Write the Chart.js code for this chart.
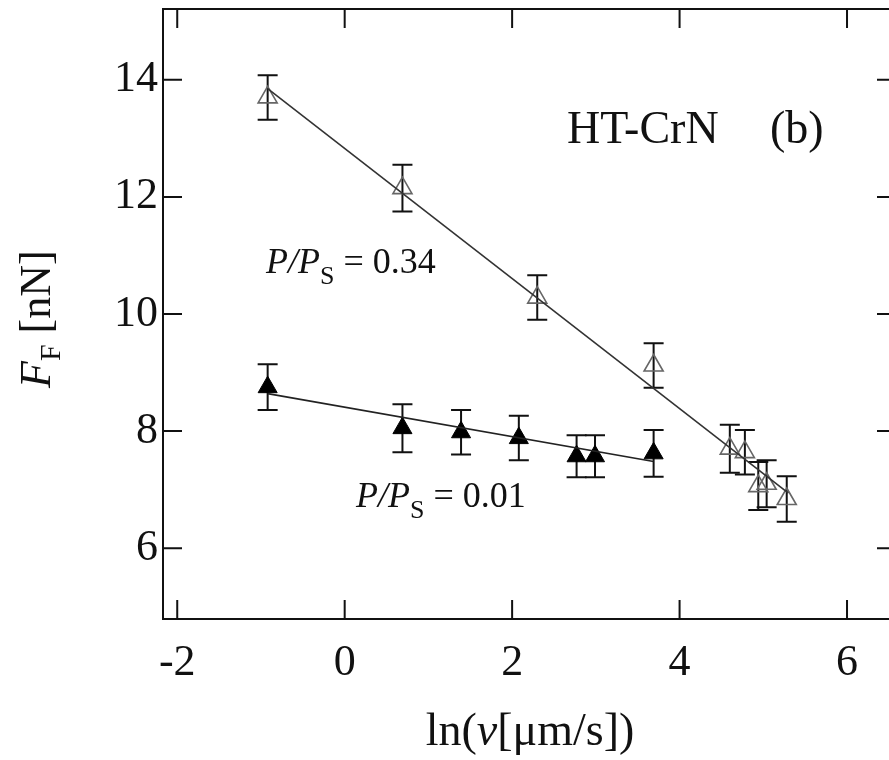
<!DOCTYPE html>
<html>
<head>
<meta charset="utf-8">
<script src="https://cdn.jsdelivr.net/npm/chart.js@4.4.1/dist/chart.umd.min.js"></script>
<style>
html,body{margin:0;padding:0;background:#fff;overflow:hidden;}
#wrap{width:900px;height:760px;}
</style>
</head>
<body>
<div id="wrap"><canvas id="c" width="900" height="760"></canvas></div>
<script>
// ---- data ----
const xOpen   = [-0.92, 0.69, 2.30, 3.69, 4.60, 4.78, 4.94, 5.04, 5.28];
const yOpen   = [13.70, 12.15, 10.28, 9.12, 7.70, 7.64, 7.06, 7.10, 6.84];
const eOpen   = [0.38, 0.40, 0.38, 0.38, 0.41, 0.38, 0.41, 0.40, 0.39];
const xFilled = [-0.92, 0.69, 1.39, 2.08, 2.77, 2.99, 3.69];
const yFilled = [8.75, 8.05, 7.98, 7.88, 7.57, 7.57, 7.62];
const eFilled = [0.39, 0.41, 0.38, 0.38, 0.36, 0.36, 0.40];
const fitOpenX   = [-0.92, 5.30];
const fitOpenY   = [13.85, 6.94];
const fitFilledX = [-0.92, 3.69];
const fitFilledY = [8.64, 7.48];
const xTicks = [-2, 0, 2, 4, 6];
const yTicks = [6, 8, 10, 12, 14];

const SERIF = '"Liberation Serif", "DejaVu Serif", serif';
const pts = (xs, ys) => xs.map((x, i) => ({x, y: ys[i]}));

function drawRich(ctx, x, y, segs, align) {
  // segs: [text, fontSize, italic, dy]
  let total = 0;
  const w = segs.map(s => { ctx.font = (s[2] ? 'italic ' : '') + s[1] + 'px ' + SERIF; const m = ctx.measureText(s[0]).width; total += m; return m; });
  let cx = align === 'center' ? x - total / 2 : x;
  segs.forEach((s, i) => {
    ctx.font = (s[2] ? 'italic ' : '') + s[1] + 'px ' + SERIF;
    ctx.fillText(s[0], cx, y + (s[3] || 0));
    cx += w[i];
  });
}

const noPad = s => { s.paddingTop = 0; s.paddingBottom = 0; s.paddingLeft = 0; s.paddingRight = 0; };

const framePlugin = {
  id: 'frame',
  beforeDatasetsDraw(chart) {
    const {ctx, scales: {x, y}} = chart;
    ctx.save();
    ctx.strokeStyle = '#111';
    ctx.lineWidth = 2;
    const cap = 10;
    const bars = [[xOpen, yOpen, eOpen], [xFilled, yFilled, eFilled]];
    bars.forEach(([xs, ys, es]) => {
      xs.forEach((xv, i) => {
        const px = x.getPixelForValue(xv);
        const top = y.getPixelForValue(ys[i] + es[i]);
        const bot = y.getPixelForValue(ys[i] - es[i]);
        ctx.beginPath();
        ctx.moveTo(px, top); ctx.lineTo(px, bot);
        ctx.moveTo(px - cap, top); ctx.lineTo(px + cap, top);
        ctx.moveTo(px - cap, bot); ctx.lineTo(px + cap, bot);
        ctx.stroke();
      });
    });
    ctx.restore();
  },
  afterDraw(chart) {
    const {ctx, chartArea: a, scales: {x, y}} = chart;
    ctx.save();
    ctx.strokeStyle = '#111';
    ctx.lineWidth = 2;
    ctx.strokeRect(a.left, a.top, a.right - a.left, a.bottom - a.top);
    const tl = 19;
    ctx.beginPath();
    xTicks.forEach(v => {
      const px = x.getPixelForValue(v);
      ctx.moveTo(px, a.bottom); ctx.lineTo(px, a.bottom - tl);
      ctx.moveTo(px, a.top); ctx.lineTo(px, a.top + tl);
    });
    yTicks.forEach(v => {
      const py = y.getPixelForValue(v);
      ctx.moveTo(a.left, py); ctx.lineTo(a.left + tl, py);
      ctx.moveTo(a.right, py); ctx.lineTo(a.right - tl, py);
    });
    ctx.stroke();

    ctx.fillStyle = '#111';
    ctx.textBaseline = 'alphabetic';
    // annotations
    drawRich(ctx, 567, 143, [['HT-CrN', 46, false]], 'left');
    drawRich(ctx, 770, 143, [['(b)', 46, false]], 'left');
    drawRich(ctx, 266, 273, [['P/P', 36, true], ['S', 26, false, 11], [' = 0.34', 36, false]], 'left');
    drawRich(ctx, 356, 507, [['P/P', 36, true], ['S', 26, false, 11], [' = 0.01', 36, false]], 'left');
    // x title
    drawRich(ctx, 530, 745, [['ln(', 46, false], ['v', 46, true], ['[\u03BCm/s])', 46, false]], 'center');
    // y title
    ctx.translate(50, 388);
    ctx.rotate(-Math.PI / 2);
    drawRich(ctx, 0, 0, [['F', 44, true], ['F', 30, false, 10], [' [nN]', 44, false]], 'left');
    ctx.restore();
  }
};

new Chart(document.getElementById('c'), {
  type: 'scatter',
  data: {
    datasets: [
      { label: 'fit 0.34', type: 'line', data: pts(fitOpenX, fitOpenY), borderColor: '#333', borderWidth: 1.6, pointRadius: 0, fill: false },
      { label: 'fit 0.01', type: 'line', data: pts(fitFilledX, fitFilledY), borderColor: '#222', borderWidth: 1.6, pointRadius: 0, fill: false },
      { label: 'P/Ps = 0.34', data: pts(xOpen, yOpen), pointStyle: 'triangle', pointRadius: 11, pointBorderWidth: 1.6, pointBorderColor: '#666', pointBackgroundColor: 'rgba(255,255,255,0)' },
      { label: 'P/Ps = 0.01', data: pts(xFilled, yFilled), pointStyle: 'triangle', pointRadius: 11, pointBorderWidth: 1, pointBorderColor: '#000', pointBackgroundColor: '#000' }
    ]
  },
  options: {
    responsive: false,
    animation: false,
    layout: { autoPadding: false, padding: { top: 9, right: 4, left: 0, bottom: 0 } },
    plugins: { legend: { display: false }, tooltip: { enabled: false } },
    scales: {
      x: {
        type: 'linear', min: -2.17, max: 6.585,
        afterBuildTicks: s => { s.ticks = xTicks.map(v => ({value: v})); },
        afterFit: s => { s.height = 141; noPad(s); },
        grid: { display: false, drawTicks: false },
        border: { display: false },
        ticks: { color: '#111', font: { family: SERIF, size: 44 }, padding: 18, callback: v => String(v), maxRotation: 0, autoSkip: false }
      },
      y: {
        type: 'linear', min: 4.79, max: 15.21,
        afterBuildTicks: s => { s.ticks = yTicks.map(v => ({value: v})); },
        afterFit: s => { s.width = 163; noPad(s); },
        grid: { display: false, drawTicks: false },
        border: { display: false },
        ticks: { color: '#111', font: { family: SERIF, size: 44 }, padding: 5, callback: v => String(v), autoSkip: false }
      }
    }
  },
  plugins: [framePlugin]
});
</script>
</body>
</html>
